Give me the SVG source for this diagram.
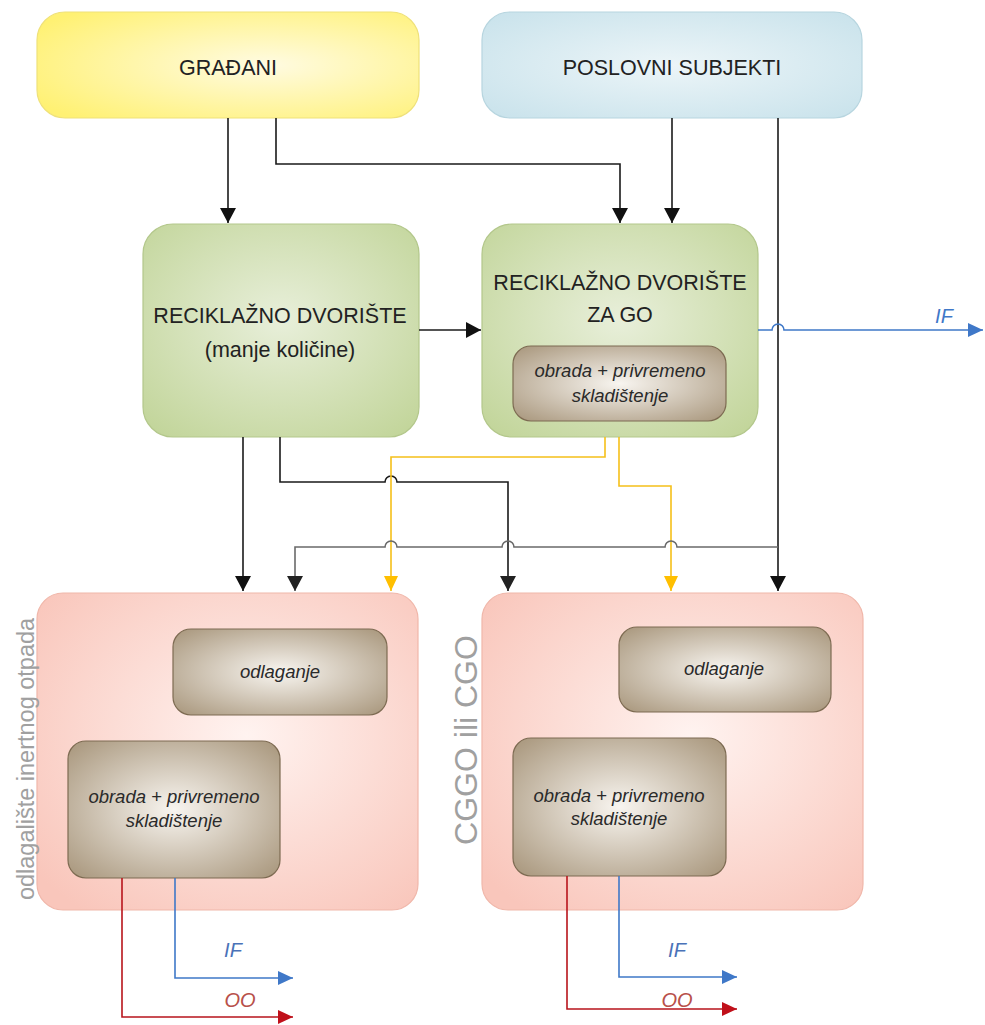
<svg xmlns="http://www.w3.org/2000/svg" width="985" height="1025" viewBox="0 0 985 1025">
<style>
.big{font-family:"Liberation Sans",Arial,sans-serif;font-size:21.5px;fill:#222;text-anchor:middle}
.it{font-family:"Liberation Sans",Arial,sans-serif;font-size:18.5px;font-style:italic;fill:#2a2a2a;text-anchor:middle}
.side{font-family:"Liberation Sans",Arial,sans-serif;fill:#a0a0a0;text-anchor:middle}
.lbl{font-family:"Liberation Sans",Arial,sans-serif;font-size:20px;font-style:italic;text-anchor:middle}
.k{fill:none;stroke:#1a1a1a;stroke-width:1.6}
.g{fill:none;stroke:#6a6a6a;stroke-width:1.6}
.y{fill:none;stroke:#f5c01a;stroke-width:1.6}
.b{fill:none;stroke:#3f78c8;stroke-width:1.6}
.r{fill:none;stroke:#b8141c;stroke-width:1.6}
.brown{fill:url(#gBrown);stroke:#7d6b52;stroke-width:1.2}
.pink{fill:url(#gPink);stroke:#f0b7aa;stroke-width:1.2}
.green{fill:url(#gGreen);stroke:#b3c78b;stroke-width:1.2}
</style>
<defs>
<radialGradient id="gYellow" cx="0.6" cy="0.5" r="0.7"><stop offset="0" stop-color="#fffbe2"/><stop offset="1" stop-color="#fff173"/></radialGradient>
<radialGradient id="gBlue" cx="0.5" cy="0.5" r="0.7"><stop offset="0" stop-color="#ecf5f8"/><stop offset="1" stop-color="#c8e2eb"/></radialGradient>
<radialGradient id="gGreen" cx="0.5" cy="0.45" r="0.7"><stop offset="0" stop-color="#e8efda"/><stop offset="1" stop-color="#c2d59a"/></radialGradient>
<radialGradient id="gPink" cx="0.55" cy="0.45" r="0.7"><stop offset="0" stop-color="#fff3f0"/><stop offset="1" stop-color="#f9c6bb"/></radialGradient>
<radialGradient id="gBrown" cx="0.5" cy="0.5" r="0.65"><stop offset="0" stop-color="#f8f5f0"/><stop offset="1" stop-color="#ad9c83"/></radialGradient>
<marker id="aK" markerUnits="userSpaceOnUse" markerWidth="16" markerHeight="16" refX="15" refY="8" orient="auto"><path d="M0,0 L15,8 L0,16 z" fill="#111"/></marker>
<marker id="aG" markerUnits="userSpaceOnUse" markerWidth="16" markerHeight="16" refX="15" refY="8" orient="auto"><path d="M0,0 L15,8 L0,16 z" fill="#222"/></marker>
<marker id="aY" markerUnits="userSpaceOnUse" markerWidth="16" markerHeight="14" refX="15" refY="7" orient="auto"><path d="M0,0 L15,7 L0,14 z" fill="#ffbf00"/></marker>
<marker id="aB" markerUnits="userSpaceOnUse" markerWidth="16" markerHeight="14" refX="15" refY="7" orient="auto"><path d="M0,0 L15,7 L0,14 z" fill="#3f78c8"/></marker>
<marker id="aR" markerUnits="userSpaceOnUse" markerWidth="16" markerHeight="14" refX="15" refY="7" orient="auto"><path d="M0,0 L15,7 L0,14 z" fill="#c0101a"/></marker>
</defs>
<rect width="985" height="1025" fill="#fff"/>

<g id="gradjani">
<rect x="37" y="12" width="382" height="106" rx="28" fill="url(#gYellow)" stroke="#efe17a" stroke-width="1.2"/>
<text class="big" x="228" y="75">GRAĐANI</text>
</g>
<g id="poslovni">
<rect x="482" y="12" width="380" height="106" rx="28" fill="url(#gBlue)" stroke="#b7d5df" stroke-width="1.2"/>
<text class="big" x="672" y="75">POSLOVNI SUBJEKTI</text>
</g>
<g id="rd">
<rect class="green" x="143" y="224" width="276" height="213" rx="30"/>
<text class="big" x="280" y="323">RECIKLAŽNO DVORIŠTE</text>
<text class="big" x="280" y="357" font-size="23.5">(manje količine)</text>
</g>
<g id="rdgo">
<rect class="green" x="482" y="224" width="276" height="213" rx="30"/>
<text class="big" x="620" y="290">RECIKLAŽNO DVORIŠTE</text>
<text class="big" x="620" y="322">ZA GO</text>
<rect class="brown" x="513" y="346" width="213" height="75" rx="18"/>
<text class="it" x="620" y="377">obrada + privremeno</text>
<text class="it" x="620" y="402">skladištenje</text>
</g>
<g id="odlagaliste">
<rect class="pink" x="37" y="593" width="381" height="317" rx="26"/>
<text class="side" font-size="23.5" transform="translate(34,759) rotate(-90)">odlagalište inertnog otpada</text>
<rect class="brown" x="173" y="629" width="214" height="86" rx="18"/>
<text class="it" x="280" y="678">odlaganje</text>
<rect class="brown" x="68" y="741" width="212" height="137" rx="18"/>
<text class="it" x="174" y="803">obrada + privremeno</text>
<text class="it" x="174" y="827">skladištenje</text>
</g>
<g id="cggo">
<rect class="pink" x="482" y="593" width="381" height="317" rx="26"/>
<text class="side" font-size="32" transform="translate(477,740) rotate(-90)">CGGO ili CGO</text>
<rect class="brown" x="619" y="627" width="212" height="85" rx="18"/>
<text class="it" x="724" y="675">odlaganje</text>
<rect class="brown" x="513" y="738" width="213" height="138" rx="18"/>
<text class="it" x="619" y="802">obrada + privremeno</text>
<text class="it" x="619" y="825">skladištenje</text>
</g>

<g id="connectors">
<path class="k" d="M228,118 V223" marker-end="url(#aK)"/>
<path class="k" d="M276,118 V164 H620 V223" marker-end="url(#aK)"/>
<path class="k" d="M672,118 V223" marker-end="url(#aK)"/>
<path class="k" d="M778,118 V591" marker-end="url(#aK)"/>
<path class="k" d="M419,330 H481" marker-end="url(#aK)"/>
<path class="b" d="M758,330 H772 A6,6 0 0 1 784,330 H983" marker-end="url(#aB)"/>
<path class="k" d="M243,437 V591" marker-end="url(#aK)"/>
<path class="k" d="M280,437 V482 H385 A6,6 0 0 1 397,482 H508 V591" marker-end="url(#aG)"/>
<path class="y" d="M605,437 V457 H391 V591" marker-end="url(#aY)"/>
<path class="y" d="M619,437 V486 H671 V591" marker-end="url(#aY)"/>
<path class="g" d="M778,547 H677 A6,6 0 0 0 665,547 H514 A6,6 0 0 0 502,547 H397 A6,6 0 0 0 385,547 H295 V591" marker-end="url(#aG)"/>
<path class="r" d="M122,878 V1017 H293" marker-end="url(#aR)"/>
<path class="b" d="M175,878 V978 H293" marker-end="url(#aB)"/>
<path class="r" d="M567,876 V1009 H737" marker-end="url(#aR)"/>
<path class="b" d="M619,876 V977 H737" marker-end="url(#aB)"/>
</g>
<g id="labels">
<text class="lbl" x="944" y="323" fill="#3f78c8">IF</text>
<text class="lbl" x="233" y="957" fill="#4a72b8">IF</text>
<text class="lbl" x="240" y="1007" fill="#b8504a">OO</text>
<text class="lbl" x="677" y="957" fill="#4a72b8">IF</text>
<text class="lbl" x="677" y="1007" fill="#b8504a">OO</text>
</g>
</svg>
